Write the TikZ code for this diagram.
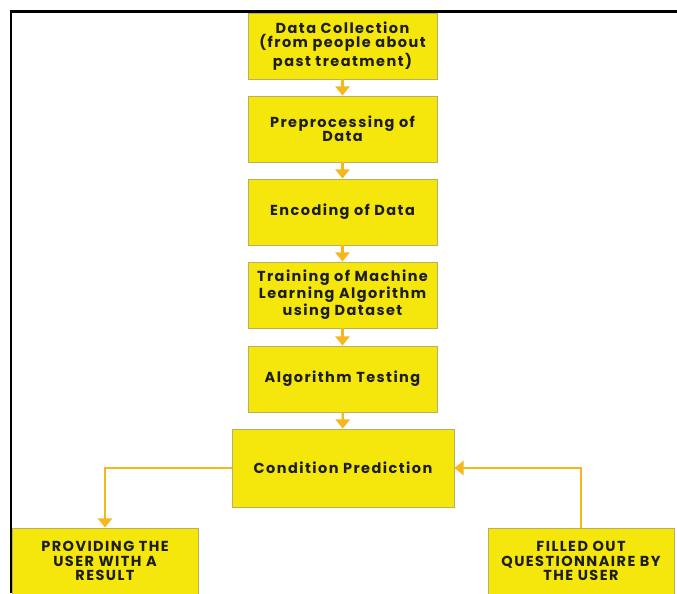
\documentclass[tikz,border=0pt]{standalone}
\usepackage{fontspec}
\setmainfont{Poppins}[LetterSpace=10]
\usepackage{tikz}
\usetikzlibrary{arrows.meta}
\definecolor{boxyellow}{RGB}{245, 230, 12}
\definecolor{boxedge}{RGB}{185, 175, 95}
\definecolor{floworange}{RGB}{246, 182, 30}
\definecolor{textdark}{RGB}{30, 30, 25}

\begin{document}
\begin{tikzpicture}[
    stepbox/.style={draw=boxedge, line width=0.6pt, fill=boxyellow, align=center,
        text=textdark, font=\fontsize{10.3}{10.2}\selectfont\bfseries,
        inner sep=0pt, minimum width=4.725cm, minimum height=1.65cm},
    flow/.style={draw=floworange, line width=1.6pt,
        -{Triangle[width=10pt, length=6.5pt]}}
]
            \useasboundingbox (0,0) rectangle (16.925,14.825);
            % Page frame
            \draw[line width=2.1pt] (0.275,0) -- (0.275,14.5375) -- (16.925,14.5375);

            % Pipeline
            \node[stepbox] (collect) at (8.5625,13.675) {Data Collection\\(from people about\\past treatment)};
            \node[stepbox] (preproc) at (8.5625,11.6) {Preprocessing of\\Data};
            \node[stepbox] (encode) at (8.5625,9.525) {Encoding of Data};
            \node[stepbox] (train) at (8.5625,7.45) {Training of Machine\\Learning Algorithm\\using Dataset};
            \node[stepbox] (test) at (8.5625,5.35) {Algorithm Testing};

            % Prediction
            \node[stepbox, minimum width=5.55cm, minimum height=1.95cm] (predict) at (8.575,3.125) {Condition Prediction};

            % User side
            \node[stepbox, minimum width=4.65cm] (result) at (2.625,0.8) {PROVIDING THE\\USER WITH A\\RESULT};
            \node[stepbox, minimum width=4.65cm] (quest) at (14.525,0.8) {FILLED OUT\\QUESTIONNAIRE BY\\THE USER};

            % Arrows
            \draw[flow] (collect) -- (preproc);
            \draw[flow] (preproc) -- (encode);
            \draw[flow] (encode) -- (train);
            \draw[flow] (train) -- (test);
            \draw[flow] (test) -- (predict);
            \draw[flow] (predict.west) -| (result.north);
            \draw[flow] (quest.north) |- (predict.east);
        \end{tikzpicture}
\end{document}
